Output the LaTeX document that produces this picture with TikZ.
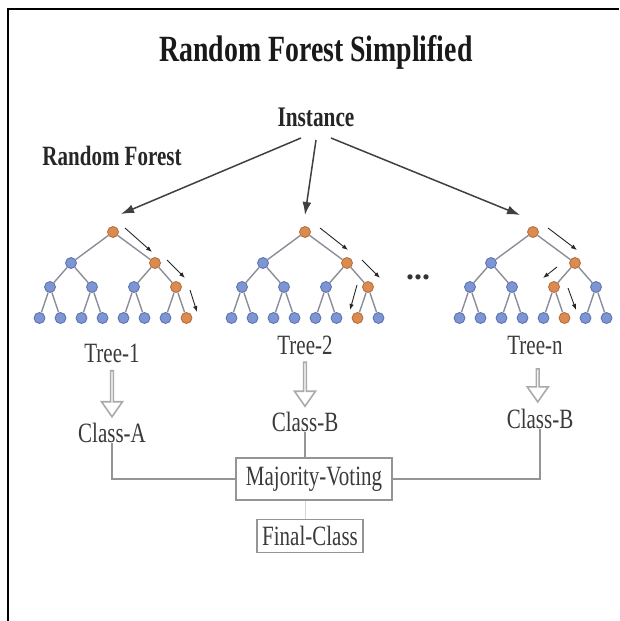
\documentclass[tikz,border=0pt]{standalone}
\usepackage{fontspec}
\usepackage{graphicx}
\setmainfont{Liberation Serif}
\usetikzlibrary{arrows.meta,calc,shapes.arrows}

\definecolor{nodeblue}{HTML}{7D95D3}
\definecolor{nodeblueD}{HTML}{5A6FAE}
\definecolor{nodeorange}{HTML}{D98B52}
\definecolor{nodeorangeD}{HTML}{B86A34}
\definecolor{edgegray}{HTML}{8C8C99}
\definecolor{txtgray}{HTML}{3A3A3A}
\definecolor{linegray}{HTML}{959595}

% tall, narrow serif lettering
\newcommand\tall[1]{\scalebox{1}[1.33]{#1}}

\tikzset{
  bnode/.style={circle, draw=nodeblueD, fill=nodeblue, line width=0.8pt, minimum size=11pt, inner sep=0pt},
  onode/.style={circle, draw=nodeorangeD, fill=nodeorange, line width=0.8pt, minimum size=11pt, inner sep=0pt},
  edge/.style={draw=edgegray, line width=1.4pt},
  walk/.style={-{Latex[length=6pt,width=4.5pt]}, line width=0.9pt, draw=black!85},
  feed/.style={-{Latex[length=13pt,width=9pt]}, line width=1.5pt, draw=black!75},
  lbl/.style={inner sep=0pt, text=txtgray, font=\fontsize{21}{24}\selectfont},
  boxed/.style={draw=linegray, line width=1.3pt, inner sep=0pt, text=txtgray, font=\fontsize{21}{24}\selectfont},
  conn/.style={draw=linegray, line width=1.4pt},
  hollow/.style={single arrow, draw=linegray!80, line width=1.6pt, fill=white, inner sep=0pt,
    minimum width=21pt, single arrow head extend=5.5pt, single arrow tip angle=70, rotate=-90},
}

% a complete binary tree of depth 3; #3,#4,#5 are the highlighted nodes below the root
\newcommand\rftree[5]{%
  \foreach \i/\dx/\yy in {1/0/232, 2/-42/263, 3/42/263, 4/-63/287, 5/-21/287, 6/21/287, 7/63/287,
      8/-73.5/318, 9/-52.5/318, 10/-31.5/318, 11/-10.5/318, 12/10.5/318, 13/31.5/318, 14/52.5/318, 15/73.5/318}{
    \def\nst{bnode}%
    \ifnum\i=1\relax \def\nst{onode}\fi
    \ifnum\i=#3\relax \def\nst{onode}\fi
    \ifnum\i=#4\relax \def\nst{onode}\fi
    \ifnum\i=#5\relax \def\nst{onode}\fi
    \node[\nst] (#1-\i) at (#2+\dx,\yy) {};
  }
  \foreach \i in {2,...,15}{
    \pgfmathtruncatemacro\up{\i/2}
    \draw[edge] (#1-\up) -- (#1-\i);
  }
}

\begin{document}
\begin{tikzpicture}[x=1pt,y=-1pt]
\useasboundingbox (0,0) rectangle (619,621);

% frame
\draw[line width=2.5pt, black] (8,621) -- (8,9) -- (619,9);

% headings
\node[inner sep=0pt, text=black!90, font=\fontsize{27.8}{30}\selectfont\bfseries] (title) at (316,52) {\tall{Random Forest Simplified}};
\node[inner sep=0pt, text=black!85, font=\fontsize{21.3}{24}\selectfont\bfseries] (inst) at (316,117) {\tall{Instance}};
\node[inner sep=0pt, text=black!85, font=\fontsize{21}{24}\selectfont\bfseries] (rf) at (112,156) {\tall{Random Forest}};

% the trees
\rftree{t1}{113}{3}{7}{15}
\rftree{t2}{305}{3}{7}{14}
\rftree{t3}{533}{3}{6}{13}

\node[inner sep=0pt, text=black!80, font=\fontsize{32}{32}\selectfont\bfseries] (dots) at (418,277) {...};

% instance fed to every tree
\draw[feed] ($(inst)+(-15,21)$) -- ($(t1-1)+(8,-18)$);
\draw[feed] ($(inst)+(0,23)$) -- ($(t2-1)+(0,-17)$);
\draw[feed] ($(inst)+(15,21)$) -- ($(t3-1)+(-13,-17)$);

% decision paths
\draw[walk] ($(t1-1)+(12,-4)$) -- ($(t1-3)+(-3,-11)$);
\draw[walk] ($(t1-3)+(12,-3)$) -- ($(t1-7)+(9,-9)$);
\draw[walk] ($(t1-7)+(14,3)$) -- ($(t1-15)+(10.5,-6)$);
\draw[walk] ($(t2-1)+(15,-4)$) -- ($(t2-3)+(1,-13)$);
\draw[walk] ($(t2-3)+(15,-3)$) -- ($(t2-7)+(12,-9)$);
\draw[walk] ($(t2-7)+(-11,-2)$) -- ($(t2-14)+(-7.5,-8)$);
\draw[walk] ($(t3-1)+(15,-4)$) -- ($(t3-3)+(2,-13)$);
\draw[walk] ($(t3-3)+(-18,4)$) -- ($(t3-6)+(-11,-9)$);
\draw[walk] ($(t3-6)+(14,1)$) -- ($(t3-13)+(11.5,-8)$);

% tree names and votes
\node[lbl] (tl1) at (112,353) {\tall{Tree-1}};
\node[lbl] (tl2) at (305,345) {\tall{Tree-2}};
\node[lbl] (tl3) at (535,345) {\tall{Tree-n}};
\node[lbl] (ca) at (112,433) {\tall{Class-A}};
\node[lbl] (cb2) at (305,422) {\tall{Class-B}};
\node[lbl] (cb3) at (540,419) {\tall{Class-B}};

\node[hollow, minimum height=46pt] (h1) at ($(tl1.south)!0.5!(ca.north)$) {};
\node[hollow, minimum height=44pt] (h2) at ($(tl2.south)!0.5!(cb2.north)$) {};
\node[hollow, minimum height=33pt] (h3) at ($(tl3.south)!0.55!(cb3.north)$) {};

% voting
\node[boxed, minimum width=156pt, minimum height=42pt] (mv) at (314,479) {\tall{Majority-Voting}};
\node[boxed, minimum width=106pt, minimum height=33pt] (fc) at (310,536) {\tall{Final-Class}};

\draw[conn] (ca.south) |- (mv.west);
\draw[conn] (cb3.south) |- (mv.east);
\draw[conn] (cb2.south) -- (cb2.south |- mv.north);
\draw[draw=linegray!40, line width=0.8pt] (cb2 |- mv.south) -- (cb2 |- fc.north);
\end{tikzpicture}
\end{document}
